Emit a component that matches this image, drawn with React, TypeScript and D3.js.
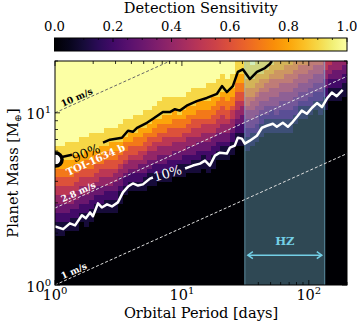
import React, { useEffect, useRef } from "react";
import * as d3 from "d3";

// axis ranges
const periodRange = [1, 200];
const massRange = [1, 20];

// sensitivity levels used in the map, top to bottom of a column
const levels = [1.0, 0.9, 0.8, 0.7, 0.6, 0.5, 0.4, 0.3, 0.2, 0.1, 0.0];

// detection sensitivity map, one entry per period bin (short -> long period, 60 bins)
// each entry = number of mass bins (of 50, from the top) at each of the levels above
const sensitivityRuns = [
  [19, 3, 2, 2, 2, 2, 2, 2, 2, 3, 11],
  [19, 3, 2, 2, 2, 2, 2, 2, 2, 3, 11],
  [18, 4, 2, 2, 2, 2, 2, 2, 2, 2, 12],
  [18, 4, 2, 2, 2, 2, 2, 1, 2, 3, 12],
  [18, 3, 2, 2, 2, 2, 2, 2, 2, 3, 12],
  [17, 4, 2, 1, 2, 2, 2, 2, 2, 2, 14],
  [17, 3, 2, 2, 2, 2, 2, 2, 2, 3, 13],
  [16, 4, 2, 2, 2, 2, 1, 2, 2, 3, 14],
  [16, 4, 1, 2, 2, 2, 1, 2, 2, 2, 16],
  [16, 3, 2, 2, 1, 2, 2, 2, 2, 2, 16],
  [15, 4, 1, 2, 2, 2, 2, 1, 2, 3, 16],
  [15, 3, 2, 2, 2, 2, 2, 1, 2, 3, 16],
  [15, 3, 2, 2, 2, 1, 2, 2, 2, 3, 16],
  [14, 4, 2, 1, 2, 1, 2, 2, 1, 3, 18],
  [13, 4, 1, 2, 2, 1, 2, 1, 2, 2, 20],
  [13, 3, 2, 1, 2, 1, 2, 1, 2, 2, 21],
  [12, 4, 1, 2, 2, 1, 2, 1, 2, 2, 21],
  [12, 3, 2, 2, 1, 2, 1, 2, 2, 2, 21],
  [11, 4, 1, 2, 2, 1, 2, 2, 1, 3, 21],
  [11, 3, 2, 1, 2, 1, 2, 2, 1, 3, 22],
  [10, 3, 2, 2, 1, 2, 2, 1, 2, 3, 22],
  [9, 4, 1, 2, 2, 1, 2, 2, 2, 2, 23],
  [8, 4, 2, 2, 1, 2, 2, 2, 1, 3, 23],
  [8, 4, 2, 1, 2, 2, 2, 1, 2, 3, 23],
  [8, 3, 2, 2, 2, 1, 2, 2, 2, 2, 24],
  [8, 4, 1, 2, 2, 1, 2, 2, 1, 3, 24],
  [8, 3, 2, 2, 1, 2, 2, 1, 2, 3, 24],
  [7, 3, 2, 2, 2, 1, 2, 2, 2, 2, 25],
  [6, 4, 2, 1, 2, 2, 2, 2, 1, 3, 25],
  [6, 3, 2, 2, 2, 2, 1, 2, 2, 3, 25],
  [6, 3, 2, 2, 1, 2, 2, 2, 1, 3, 26],
  [5, 4, 2, 2, 1, 2, 2, 2, 2, 3, 25],
  [5, 3, 2, 2, 2, 2, 1, 2, 2, 3, 26],
  [4, 4, 1, 2, 2, 2, 1, 2, 2, 2, 28],
  [3, 4, 1, 2, 2, 2, 2, 2, 1, 3, 28],
  [4, 3, 2, 2, 2, 1, 2, 2, 1, 3, 28],
  [3, 3, 2, 2, 1, 2, 2, 1, 2, 3, 29],
  [0, 3, 2, 2, 2, 2, 2, 1, 2, 3, 31],
  [0, 3, 2, 2, 2, 1, 2, 2, 2, 3, 31],
  [0, 4, 2, 2, 2, 1, 2, 2, 2, 3, 30],
  [1, 3, 2, 2, 1, 2, 2, 2, 1, 3, 31],
  [0, 3, 2, 2, 1, 2, 2, 2, 2, 2, 32],
  [0, 3, 1, 2, 1, 2, 2, 1, 2, 3, 33],
  [0, 2, 2, 1, 2, 2, 1, 2, 1, 3, 34],
  [0, 1, 2, 1, 2, 2, 2, 1, 2, 3, 34],
  [0, 0, 2, 2, 2, 2, 2, 2, 1, 3, 34],
  [0, 0, 2, 2, 1, 2, 2, 2, 2, 3, 34],
  [0, 0, 1, 2, 2, 2, 2, 2, 2, 3, 34],
  [0, 0, 1, 2, 2, 2, 2, 2, 2, 3, 34],
  [0, 0, 0, 2, 2, 2, 2, 2, 2, 2, 36],
  [0, 0, 0, 1, 2, 2, 2, 2, 1, 3, 37],
  [0, 0, 0, 1, 2, 2, 2, 2, 1, 3, 37],
  [0, 0, 0, 0, 2, 2, 2, 2, 2, 2, 38],
  [0, 0, 0, 0, 1, 2, 2, 2, 2, 2, 39],
  [0, 0, 0, 0, 1, 2, 2, 2, 2, 3, 38],
  [0, 0, 0, 0, 0, 2, 2, 2, 2, 3, 39],
  [0, 0, 0, 0, 0, 1, 2, 1, 2, 3, 41],
  [0, 0, 0, 0, 0, 0, 2, 2, 2, 3, 41],
  [0, 0, 0, 0, 0, 0, 2, 2, 2, 3, 41],
  [0, 0, 0, 0, 0, 0, 1, 2, 2, 3, 42],
];

// 90% contour [period, mass], null = gap for the inline label
const contour90: ([number, number] | null)[] = [
  [1.0, 5.42], [1.36, 5.71], null,
  [2.39, 6.71], [2.71, 6.98], [3.37, 7.16], [3.76, 7.87], [4.11, 7.76], [4.43, 8.18],
  [5.3, 8.75], [5.92, 9.23], [7.08, 10.1], [8.05, 10.1], [8.81, 10.5], [9.64, 10.3],
  [10.9, 11.0], [13.1, 11.7], [15.7, 12.2], [18.9, 12.9], [20.7, 14.3], [22.6, 13.2],
  [25.2, 14.3], [27.6, 17.3], [30.2, 17.9], [34.3, 15.7], [39.0, 17.3], [45.1, 18.2],
  [49.3, 19.2], [51.2, 20.0],
];

// 10% contour
const contour10: ([number, number] | null)[] = [
  [1.0, 2.19], [1.16, 2.11], [1.31, 2.28], [1.44, 2.22], [1.63, 2.54], [1.75, 2.44],
  [1.89, 2.64], [1.99, 2.51], [2.18, 2.98], [2.34, 2.82], [2.57, 2.94], [2.81, 2.86],
  [3.13, 3.02], [3.43, 3.45], [3.76, 3.73], [4.11, 3.89], [4.51, 3.78], [4.93, 3.84],
  [5.6, 4.15], [5.91, 4.21], null,
  [10.6, 4.75], [12.2, 4.94], [13.9, 5.07], [15.2, 5.28], [16.6, 4.94], [18.2, 5.64],
  [19.9, 5.87], [22.6, 5.8], [23.9, 6.28], [26.1, 6.45], [27.6, 7.17], [29.7, 7.08],
  [31.3, 6.62], [34.3, 6.89], [39.0, 7.36], [42.7, 8.19], [46.7, 8.41], [52.1, 8.64],
  [56.0, 8.3], [62.4, 8.75], [68.4, 8.3], [74.8, 8.87], [81.9, 9.61], [88.1, 10.3],
  [96.4, 9.87], [106, 10.7], [116, 11.4], [127, 10.8], [139, 12.1], [152, 13.1],
  [166, 12.5], [185, 13.6],
];

// RV semi-amplitude lines, mass at P = 1 d and P = 200 d
const rvLabels = ["10 m/s", "2.8 m/s", "1 m/s"];
const rvMassAtP1 = [10, 2.8, 1];
const rvMassAtP200 = [58, 16.3, 5.8];

const hzPeriods = [31.3, 133.6];
const planetName = "TOI-1634 b";
const planetPeriod = 1.01;
const planetMass = 5.35;

const cbTicks = [0, 0.2, 0.4, 0.6, 0.8, 1.0];

const FONT = "DejaVu Serif";

const App = () => {
  const svgRef = useRef<SVGSVGElement>(null);

  useEffect(() => {
    const W = 357, H = 328;
    const L = 55, R = 347, T = 61, B = 285;
    const svg = d3.select(svgRef.current).attr("width", W).attr("height", H);
    svg.selectAll("*").remove();

    const x = d3.scaleLog().domain(periodRange).range([L, R]);
    const y = d3.scaleLog().domain(massRange).range([B, T]);

    const defs = svg.append("defs");
    defs.append("clipPath").attr("id", "plotclip")
      .append("rect").attr("x", L).attr("y", T).attr("width", R - L).attr("height", B - T);

    //heatmap
    const g = svg.append("g").attr("clip-path", "url(#plotclip)");
    const nCols = sensitivityRuns.length;
    const lp0 = Math.log10(periodRange[0]), lp1 = Math.log10(periodRange[1]);
    const lm0 = Math.log10(massRange[0]), lm1 = Math.log10(massRange[1]);
    sensitivityRuns.forEach((runs, i) => {
      const nRows = d3.sum(runs);
      const pA = 10 ** (lp0 + (lp1 - lp0) * i / nCols);
      const pB = 10 ** (lp0 + (lp1 - lp0) * (i + 1) / nCols);
      let j = 0;
      runs.forEach((count, k) => {
        for (let c = 0; c < count; c++, j++) {
          const mTop = 10 ** (lm1 - (lm1 - lm0) * j / nRows);
          const mBot = 10 ** (lm1 - (lm1 - lm0) * (j + 1) / nRows);
          g.append("rect")
            .attr("x", x(pA)).attr("y", y(mTop))
            .attr("width", x(pB) - x(pA) + 0.5).attr("height", y(mBot) - y(mTop) + 0.5)
            .attr("fill", d3.interpolateInferno(levels[k]))
            .attr("shape-rendering", "crispEdges");
        }
      });
    });

    // habitable zone
    g.append("rect")
      .attr("x", x(hzPeriods[0])).attr("y", T)
      .attr("width", x(hzPeriods[1]) - x(hzPeriods[0])).attr("height", B - T)
      .attr("fill", "#87ceeb").attr("fill-opacity", 0.35);
    hzPeriods.forEach(p => {
      g.append("line").attr("x1", x(p)).attr("x2", x(p)).attr("y1", T).attr("y2", B)
        .attr("stroke", "#87ceeb").attr("stroke-opacity", 0.6).attr("stroke-width", 1);
    });

    // RV lines
    rvLabels.forEach((lab, i) => {
      const x1 = x(periodRange[0]), y1 = y(rvMassAtP1[i]);
      const x2 = x(periodRange[1]), y2 = y(rvMassAtP200[i]);
      const dark = i === 0;
      g.append("line").attr("x1", x1).attr("y1", y1).attr("x2", x2).attr("y2", y2)
        .attr("stroke", dark ? "#666" : "#e0e0e0").attr("stroke-width", 1)
        .attr("stroke-dasharray", "3,2");
      const ang = Math.atan2(y2 - y1, x2 - x1) * 180 / Math.PI;
      const lx = x(1.17);
      const ly = y1 + (y2 - y1) * (lx - x1) / (x2 - x1);
      g.append("text")
        .attr("transform", `translate(${lx},${ly}) rotate(${ang})`)
        .attr("y", -2)
        .attr("font-family", FONT).attr("font-size", 9).attr("font-weight", "bold")
        .attr("fill", dark ? "#000" : "#fff")
        .text(lab);
    });

    // contours
    const line = d3.line<[number, number] | null>()
      .defined(d => d !== null)
      .x(d => x(d![0])).y(d => y(d![1]));
    g.append("path").datum(contour10).attr("d", line)
      .attr("fill", "none").attr("stroke", "#fff").attr("stroke-width", 2.5)
      .attr("stroke-linejoin", "round");
    g.append("path").datum(contour90).attr("d", line)
      .attr("fill", "none").attr("stroke", "#000").attr("stroke-width", 2.5)
      .attr("stroke-linejoin", "round");

    g.append("text")
      .attr("transform", `translate(${x(1.42)},${y(5.14)}) rotate(-22)`)
      .attr("font-family", FONT).attr("font-size", 13).attr("fill", "#000")
      .text("90%");
    g.append("text")
      .attr("transform", `translate(${x(6.13)},${y(3.99)}) rotate(-16)`)
      .attr("font-family", FONT).attr("font-size", 13).attr("fill", "#fff")
      .text("10%");

    // planet label
    g.append("text")
      .attr("transform", `translate(${x(1.27)},${y(4.3)}) rotate(-24.4)`)
      .attr("font-family", FONT).attr("font-size", 10).attr("font-weight", "bold")
      .attr("fill", "#fff")
      .text(planetName);

    g.append("circle")
      .attr("cx", x(planetPeriod)).attr("cy", y(planetMass)).attr("r", 6.5)
      .attr("fill", "#fff").attr("stroke", "#000").attr("stroke-width", 3.5);

    // HZ label + arrow
    const hzc = "#74cfe6";
    const ay = y(1.49);
    const ax1 = x(33.1), ax2 = x(126.6);
    g.append("line").attr("x1", ax1).attr("x2", ax2).attr("y1", ay).attr("y2", ay)
      .attr("stroke", hzc).attr("stroke-width", 1.5);
    [[ax1, 1], [ax2, -1]].forEach(([ax, s]) => {
      g.append("path")
        .attr("d", `M${ax + s * 5},${ay - 3.5}L${ax},${ay}L${ax + s * 5},${ay + 3.5}`)
        .attr("fill", "none").attr("stroke", hzc).attr("stroke-width", 1.5);
    });
    g.append("text")
      .attr("x", x(Math.sqrt(hzPeriods[0] * hzPeriods[1]))).attr("y", y(1.7))
      .attr("text-anchor", "middle")
      .attr("font-family", FONT).attr("font-size", 11.5).attr("font-weight", "bold")
      .attr("fill", hzc).text("HZ");

    // frame
    svg.append("rect").attr("x", L).attr("y", T).attr("width", R - L).attr("height", B - T)
      .attr("fill", "none").attr("stroke", "#000").attr("stroke-width", 1);

    // ticks, inward on all sides
    const ticks = svg.append("g").attr("stroke", "#000").attr("stroke-width", 0.8);
    const isMajor = (v: number) => Math.abs(Math.log10(v) - Math.round(Math.log10(v))) < 1e-6;
    x.ticks().forEach(v => {
      const len = isMajor(v) ? 5 : 3;
      const px = x(v);
      ticks.append("line").attr("x1", px).attr("x2", px).attr("y1", B).attr("y2", B - len);
      ticks.append("line").attr("x1", px).attr("x2", px).attr("y1", T).attr("y2", T + len);
    });
    y.ticks().forEach(v => {
      const len = isMajor(v) ? 5 : 3;
      const py = y(v);
      ticks.append("line").attr("x1", L).attr("x2", L + len).attr("y1", py).attr("y2", py);
      ticks.append("line").attr("x1", R).attr("x2", R - len).attr("y1", py).attr("y2", py);
    });

    // tick labels
    const supLabel = (sel: any, exp: number) => {
      sel.append("tspan").text("10");
      sel.append("tspan").attr("dy", -6).attr("font-size", 10).text(String(exp));
    };
    x.ticks().filter(isMajor).forEach(v => {
      const t = svg.append("text").attr("x", x(v)).attr("y", 299.5)
        .attr("text-anchor", "middle").attr("font-family", FONT).attr("font-size", 14.5);
      supLabel(t, Math.round(Math.log10(v)));
    });
    y.ticks().filter(isMajor).forEach(v => {
      const t = svg.append("text").attr("x", 51).attr("y", y(v) + 6.5)
        .attr("text-anchor", "end").attr("font-family", FONT).attr("font-size", 14.5);
      supLabel(t, Math.round(Math.log10(v)));
    });

    // axis titles
    svg.append("text").attr("x", (L + R) / 2).attr("y", 317.5)
      .attr("text-anchor", "middle").attr("font-family", FONT).attr("font-size", 14.6)
      .text("Orbital Period [days]");
    const yt = svg.append("text")
      .attr("transform", `translate(18,${(T + B) / 2}) rotate(-90)`)
      .attr("text-anchor", "middle").attr("font-family", FONT).attr("font-size", 14.6);
    yt.append("tspan").text("Planet Mass [M");
    yt.append("tspan").attr("dy", 3).attr("font-size", 9.5).text("⊕");
    yt.append("tspan").attr("dy", -3).text("]");

    // colorbar
    const cbL = 54.5, cbR = 347, cbT = 38, cbB = 51;
    const grad = defs.append("linearGradient").attr("id", "cbgrad")
      .attr("x1", "0%").attr("x2", "100%").attr("y1", "0%").attr("y2", "0%");
    d3.range(0, 1.0001, 0.05).forEach(t => {
      grad.append("stop").attr("offset", `${t * 100}%`).attr("stop-color", d3.interpolateInferno(t));
    });
    svg.append("rect").attr("x", cbL).attr("y", cbT).attr("width", cbR - cbL).attr("height", cbB - cbT)
      .attr("fill", "url(#cbgrad)").attr("stroke", "#000").attr("stroke-width", 1);
    const cx = d3.scaleLinear().domain([0, 1]).range([cbL, cbR]);
    const cbt = svg.append("g").attr("stroke", "#000").attr("stroke-width", 0.8);
    d3.range(0, 1.0001, 0.05).forEach(t => {
      const major = Math.abs(t * 5 - Math.round(t * 5)) < 1e-6;
      cbt.append("line").attr("x1", cx(t)).attr("x2", cx(t)).attr("y1", cbT).attr("y2", cbT + (major ? 4 : 2));
    });
    cbTicks.forEach(t => {
      svg.append("text").attr("x", cx(t)).attr("y", 31).attr("text-anchor", "middle")
        .attr("font-family", FONT).attr("font-size", 13.2).text(t.toFixed(1));
    });
    svg.append("text").attr("x", (cbL + cbR) / 2).attr("y", 12.5).attr("text-anchor", "middle")
      .attr("font-family", FONT).attr("font-size", 14.6).text("Detection Sensitivity");
  }, []);

  return (
    <svg ref={svgRef} style={{ position: "absolute", left: 0, top: 0, background: "#fff" }} />
  );
};

export default App;
